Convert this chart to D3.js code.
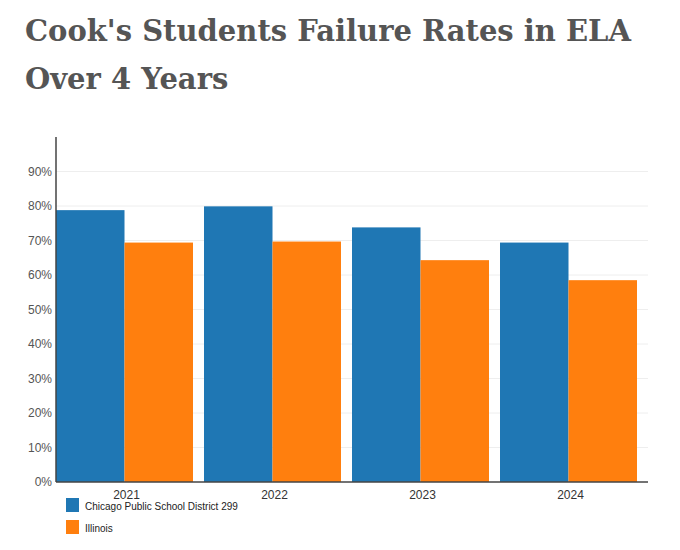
<!DOCTYPE html>
<html><head><meta charset="utf-8">
<script src="https://cdn.jsdelivr.net/npm/d3@7"></script>
<style>body{margin:0;background:#fff}</style></head>
<body><svg id="c" width="680" height="550"></svg>
<script>
const years = ["2021","2022","2023","2024"];
const series = ["Chicago Public School District 299","Illinois"];
const chicago = [78.8, 79.9, 73.8, 69.4];
const illinois = [69.4, 69.7, 64.3, 58.5];
const yTicks = [0,10,20,30,40,50,60,70,80,90];
const colors = ["#1f77b4","#ff7f0e"];

const svg = d3.select("#c");
const L=56, R=648, T=137, B=482;
svg.append("text").attr("x",25).attr("y",41).attr("font-family","DejaVu Serif").attr("font-weight","bold").attr("font-size",29).attr("fill","#555").text("Cook's Students Failure Rates in ELA");
svg.append("text").attr("x",25).attr("y",89).attr("font-family","DejaVu Serif").attr("font-weight","bold").attr("font-size",29).attr("fill","#555").text("Over 4 Years");

const y = d3.scaleLinear().domain([0,100]).range([B,T]);
const x = d3.scaleBand().domain(years).range([L,R]).paddingInner(0).paddingOuter(0);
const inner = x.bandwidth()*137/148;
const xs = d3.scaleBand().domain(series).range([0,inner]);

svg.append("g").selectAll("line").data(yTicks.slice(1)).join("line")
 .attr("x1",L).attr("x2",R).attr("y1",d=>y(d)).attr("y2",d=>y(d)).attr("stroke","#eee");
svg.append("g").selectAll("text").data(yTicks).join("text")
 .attr("x",L-4).attr("y",d=>y(d)+4).attr("text-anchor","end").attr("font-family","Liberation Sans, Arial").attr("font-size",12).attr("fill","#555").text(d=>d+"%");

const data = [chicago, illinois];
data.forEach((vals,si)=>{
  svg.append("g").selectAll("rect").data(years).join("rect")
   .attr("x",(d)=>x(d)+xs(series[si])).attr("width",xs.bandwidth())
   .attr("y",(d,i)=>y(vals[i])).attr("height",(d,i)=>B-y(vals[i])).attr("fill",colors[si]);
});
svg.append("line").attr("x1",L).attr("x2",L).attr("y1",T).attr("y2",B).attr("stroke","#444").attr("stroke-width",1.5);
svg.append("line").attr("x1",L).attr("x2",R).attr("y1",B).attr("y2",B).attr("stroke","#444").attr("stroke-width",1.5);
svg.append("g").selectAll("text").data(years).join("text")
 .attr("x",d=>x(d)+inner/2+2).attr("y",B+17).attr("text-anchor","middle").attr("font-family","Liberation Sans, Arial").attr("font-size",12).attr("fill","#333").text(d=>d);

series.forEach((s,i)=>{
  const g=svg.append("g").attr("transform",`translate(66,${506+i*22})`);
  g.append("rect").attr("x",0).attr("y",-8).attr("width",13).attr("height",14).attr("fill",colors[i]);
  g.append("text").attr("x",19).attr("y",4).attr("font-family","Liberation Sans, Arial").attr("font-size",10).attr("fill","#222").text(s);
});
</script></body></html>
